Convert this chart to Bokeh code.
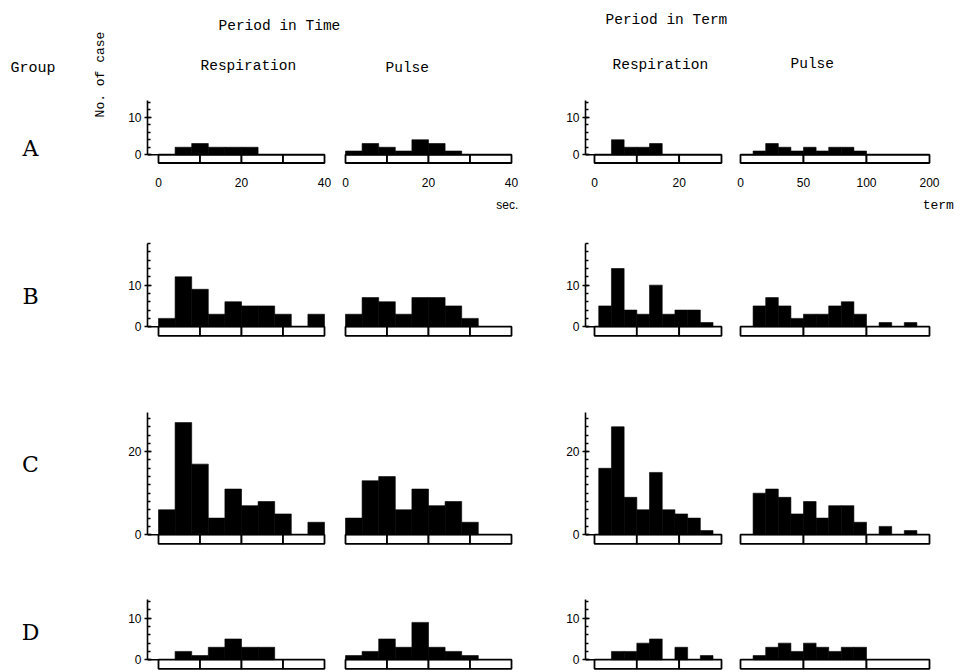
from bokeh.plotting import figure
from bokeh.layouts import row, column
from bokeh.models import Range1d, FixedTicker, Label, LinearAxis
from bokeh.embed import file_html
from bokeh.resources import INLINE

# ---------------- data ----------------
groups = ["A", "B", "C", "D"]

# period in time (sec), 4-sec bins from 0 to 40
time_edges = [0, 4, 8, 12, 16, 20, 24, 28, 32, 36, 40]
resp_time_A = [0, 2, 3, 2, 2, 2, 0, 0, 0, 0]
resp_time_B = [2, 12, 9, 3, 6, 5, 5, 3, 0, 3]
resp_time_C = [6, 27, 17, 4, 11, 7, 8, 5, 0, 3]
resp_time_D = [0, 2, 1, 3, 5, 3, 3, 0, 0, 0]
pulse_time_A = [1, 3, 2, 1, 4, 3, 1, 0, 0, 0]
pulse_time_B = [3, 7, 6, 3, 7, 7, 5, 2, 0, 0]
pulse_time_C = [4, 13, 14, 6, 11, 7, 8, 3, 0, 0]
pulse_time_D = [1, 2, 5, 3, 9, 3, 2, 1, 0, 0]

# period in term, respiration: 3-term bins
resp_term_edges = [1, 4, 7, 10, 13, 16, 19, 22, 25, 28]
resp_term_A = [0, 4, 2, 2, 3, 0, 0, 0, 0]
resp_term_B = [5, 14, 4, 3, 10, 3, 4, 4, 1]
resp_term_C = [16, 26, 9, 6, 15, 6, 5, 4, 1]
resp_term_D = [0, 2, 2, 4, 5, 0, 3, 0, 1]

# period in term, pulse: 10-term bins to 100, 20-term bins to 200 (compressed scale)
pulse_term_edges = [0, 10, 20, 30, 40, 50, 60, 70, 80, 90, 100, 120, 140, 160, 180, 200]
pulse_term_A = [0, 1, 3, 2, 1, 2, 1, 2, 2, 1, 0, 0, 0, 0, 0]
pulse_term_B = [0, 5, 7, 5, 2, 3, 3, 5, 6, 3, 0, 1, 0, 1, 0]
pulse_term_C = [0, 10, 11, 9, 5, 8, 4, 7, 7, 3, 0, 2, 0, 1, 0]
pulse_term_D = [0, 1, 3, 4, 2, 4, 3, 2, 3, 3, 0, 0, 0, 0, 0]

# scale boxes under each histogram
time_segments = [0, 10, 20, 30, 40]
resp_term_segments = [0, 10, 20, 30]
pulse_term_segments = [0, 50, 100, 200]

# tick labels (group A only)
time_ticks = [0, 20, 40]
resp_term_ticks = [0, 20]
pulse_term_ticks = [0, 50, 100, 200]

# y axis per group
y_major = {"A": [0, 10], "B": [0, 10], "C": [0, 20], "D": [0, 10]}
y_top = {"A": 14.5, "B": 20, "C": 29.5, "D": 14.5}

resp_time = {"A": resp_time_A, "B": resp_time_B, "C": resp_time_C, "D": resp_time_D}
pulse_time = {"A": pulse_time_A, "B": pulse_time_B, "C": pulse_time_C, "D": pulse_time_D}
resp_term = {"A": resp_term_A, "B": resp_term_B, "C": resp_term_C, "D": resp_term_D}
pulse_term = {"A": pulse_term_A, "B": pulse_term_B, "C": pulse_term_C, "D": pulse_term_D}


def pulse_disp(t):
    # broken scale: 100..200 drawn at half scale
    return t if t <= 100 else 100 + (t - 100) / 2.0


# ---------------- layout constants ----------------
MONO = "Liberation Mono"
SANS = "Liberation Sans"
SERIF = "DejaVu Serif"
YMIN = -2.6
BOX_H = 2.2

LEFT_W = 114
HEADER_H = 88
row_h = {"A": 127, "B": 175, "C": 190, "D": 90}
row_bt = {"A": 10, "B": 26, "C": 18, "D": 17}
row_bb = {"A": 44, "B": 53, "C": 35, "D": 0}
row_ymax = {"A": 15, "B": 20.5, "C": 30.4, "D": 15}
TOTAL_H = HEADER_H + sum(row_h.values())

# column: (fig width, border left, border right, frame-left px, zero px, px per unit)
cols = {
    "rt": (221, 33, 9, 147, 158, 4.15),
    "pt": (200, 7, 21, 342, 345, 4.15),
    "rr": (200, 50, 11, 585, 594, 4.233),
    "pp": (223, 3, 2, 738, 740, 1.26),
}
RIGHT_W = sum(c[0] for c in cols.values())


def make_panel(g, key, edges, counts, segments, ticks, show_y, disp=lambda v: v,
               overrides=None, unit=None):
    w, bl, br, fl, z, s = cols[key]
    fw = w - bl - br
    x0 = (fl - z) / s
    x1 = x0 + fw / s
    p = figure(width=w, height=row_h[g], x_range=Range1d(x0, x1),
               y_range=Range1d(YMIN, row_ymax[g]),
               x_axis_type=None, y_axis_type=None, title=None,
               output_backend="svg", toolbar_location=None,
               min_border_left=bl, min_border_right=br,
               min_border_top=row_bt[g], min_border_bottom=row_bb[g],
               outline_line_color=None, border_fill_color="white",
               background_fill_color="white")
    p.xgrid.visible = False
    p.ygrid.visible = False

    # scale box
    segs = [disp(v) for v in segments]
    p.quad(left=segs[:-1], right=segs[1:], bottom=-BOX_H, top=0,
           fill_color="white", line_color="black", line_width=1.8)
    # histogram bars
    L, R, T = [], [], []
    for i, c in enumerate(counts):
        if c > 0:
            L.append(disp(edges[i]))
            R.append(disp(edges[i + 1]))
            T.append(c)
    p.quad(left=L, right=R, bottom=0, top=T, fill_color="black",
           line_color="black", line_width=0.6)

    if show_y:
        top = y_top[g]
        minor = list(range(0, int(top) + 1, 2))
        yax = LinearAxis(ticker=FixedTicker(ticks=y_major[g], minor_ticks=minor),
                         bounds=(0, top), axis_line_width=1.6,
                         major_tick_in=4, major_tick_out=3,
                         minor_tick_in=3, minor_tick_out=0,
                         major_tick_line_width=1.4, minor_tick_line_width=1.3,
                         major_label_text_font=SANS,
                         major_label_text_color="black",
                         major_label_text_font_size="12px",
                         major_label_standoff=3)
        p.add_layout(yax, "left")
        p.segment(x0=[x0], y0=[0], x1=[0], y1=[0], line_color="black", line_width=1.6)

    if g == "A":
        tk = [disp(v) for v in ticks]
        xax = LinearAxis(ticker=FixedTicker(ticks=tk), axis_line_color=None,
                         major_tick_line_color=None, minor_tick_line_color=None,
                         major_label_text_font=SANS,
                         major_label_text_color="black",
                         major_label_text_font_size="12px",
                         major_label_standoff=7)
        if overrides:
            xax.major_label_overrides = overrides
        p.add_layout(xax, "below")
        if unit is not None:
            ux, utext, ufont, usize = unit
            uax = LinearAxis(ticker=FixedTicker(ticks=[ux]), axis_line_color=None,
                             major_tick_line_color=None, minor_tick_line_color=None,
                             major_label_text_font=ufont,
                             major_label_text_color="black",
                             major_label_text_font_size=usize,
                             major_label_standoff=2,
                             major_label_overrides={ux: utext})
            p.add_layout(uax, "below")
    return p


rows = []
for g in groups:
    prt = make_panel(g, "rt", time_edges, resp_time[g], time_segments, time_ticks, True)
    ppt = make_panel(g, "pt", time_edges, pulse_time[g], time_segments, time_ticks, False,
                     unit=(time_ticks[-1] - 1, "sec.", SANS, "12px"))
    prr = make_panel(g, "rr", resp_term_edges, resp_term[g], resp_term_segments,
                     resp_term_ticks, True)
    ovr = {pulse_disp(v): str(v) for v in pulse_term_ticks}
    ppp = make_panel(g, "pp", pulse_term_edges, pulse_term[g], pulse_term_segments,
                     pulse_term_ticks, False, disp=pulse_disp, overrides=ovr,
                     unit=(157, "term", MONO, "13px"))
    rows.append(row(prt, ppt, prr, ppp))


def text_fig(w, h):
    p = figure(width=w, height=h, x_range=Range1d(0, w), y_range=Range1d(0, h),
               x_axis_type=None, y_axis_type=None, title=None,
               output_backend="svg", toolbar_location=None,
               min_border=0, outline_line_color=None)
    p.xgrid.visible = False
    p.ygrid.visible = False
    return p


# header (above the panels)
header = text_fig(RIGHT_W, HEADER_H)
for txt, x, y in [("Period in Time", 104, 63), ("Period in Term", 491, 69),
                  ("Respiration", 86, 23), ("Pulse", 271, 21),
                  ("Respiration", 498, 24), ("Pulse", 676, 25)]:
    header.add_layout(Label(x=x, y=y, text=txt, text_font=MONO, text_font_size="14.5px",
                            text_color="black", text_baseline="middle", text_align="left"))

# left labels
left = text_fig(LEFT_W, TOTAL_H)
left.add_layout(Label(x=10, y=TOTAL_H - 68, text="Group", text_font=MONO,
                      text_font_size="15px", text_color="black",
                      text_baseline="middle", text_align="left"))
left.add_layout(Label(x=100, y=TOTAL_H - 74, text="No. of case", text_font=MONO,
                      text_font_size="13px", text_color="black",
                      text_baseline="middle", text_align="center", angle=1.5708))
for g, yy in zip(groups, [148, 296, 464, 632]):
    left.add_layout(Label(x=30, y=TOTAL_H - yy, text=g, text_font=SERIF,
                          text_font_size="22px", text_color="black",
                          text_baseline="middle", text_align="center"))

page = row(left, column(header, *rows))
open("out.html", "w").write(file_html(page, INLINE))
